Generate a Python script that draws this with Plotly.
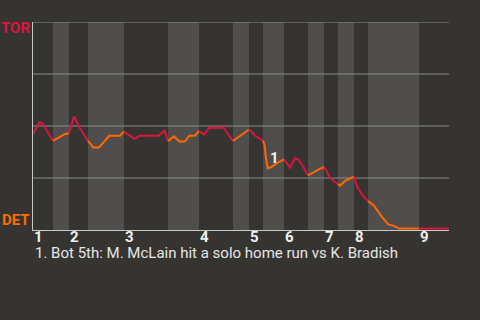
import plotly.graph_objects as go

# Game progress (arbitrary units along the game) and TOR win probability
progress = [0, 6.3, 9.3, 20, 32, 36, 41, 47, 55, 60.3, 66, 76.3, 87, 91,
            101.5, 106.5, 125.5, 131.5, 135, 141, 146.5, 151.5, 156.5, 162, 166,
            171, 176.3, 190.8, 195.5, 200, 207, 216, 222, 227, 230,
            231.5, 233, 234.7, 238.7, 243.7, 251, 254, 257, 262, 265.3, 270.3, 275,
            280.3, 286.3, 291, 293, 297, 302, 305, 307, 312, 318.7, 321,
            324.3, 328.7, 335, 341, 348.7, 355.3, 360.3, 366.3, 386, 416]
tor_win_prob = [0.460, 0.518, 0.513, 0.428, 0.462, 0.465, 0.546, 0.489, 0.428,
                0.397, 0.397, 0.453, 0.453, 0.473, 0.438, 0.453, 0.453, 0.478, 0.428,
                0.450, 0.425, 0.425, 0.453, 0.453, 0.476, 0.459, 0.492, 0.492, 0.457,
                0.428, 0.453, 0.483, 0.454, 0.438, 0.429, 0.409, 0.345, 0.296, 0.304,
                0.321, 0.340, 0.321, 0.300, 0.345, 0.340, 0.304, 0.262, 0.277, 0.293,
                0.303, 0.288, 0.249, 0.232, 0.221, 0.213, 0.236, 0.251, 0.256, 0.208,
                0.172, 0.139, 0.117, 0.064, 0.027, 0.021, 0.007, 0.007, 0.007]

# Half-inning boundaries (top, bottom, top, bottom, ...), last value = end of game
half_starts = [0, 20, 36, 55, 91, 135, 166, 200, 216, 230, 251, 275, 291, 305,
               321, 335, 386, 416]
inning_labels = ["1", "2", "3", "4", "5", "6", "7", "8", "9"]
grid_values = [0.25, 0.5, 0.75, 1.0]

event_labels = ["1"]
event_x = [234.7]
event_y = [0.296]
caption = "1. Bot 5th: M. McLain hit a solo home run vs K. Bradish"

BG = "#363431"
BAND = "#4f4e4c"
GRID = "#8c8c8c"
RED = "#dc1440"
ORANGE = "#ff6a00"
FONT = "Roboto"
FS = 15

fig = go.Figure()

shapes = []
for i in range(len(half_starts) - 1):
    if i % 2 == 1:
        shapes.append(dict(type="rect", xref="x", yref="paper",
                           x0=half_starts[i], x1=half_starts[i + 1], y0=0, y1=1,
                           fillcolor=BAND, line_width=0, layer="below"))
for g in grid_values:
    shapes.append(dict(type="line", xref="paper", yref="y", x0=0, x1=1, y0=g, y1=g,
                       line=dict(color=GRID, width=1), layer="below"))

for i in range(len(half_starts) - 1):
    a, b = half_starts[i], half_starts[i + 1]
    xs = [x for x in progress if a <= x <= b]
    ys = [y for x, y in zip(progress, tor_win_prob) if a <= x <= b]
    fig.add_trace(go.Scatter(x=xs, y=ys, mode="lines",
                             line=dict(color=RED if i % 2 == 0 else ORANGE, width=2),
                             hoverinfo="skip", showlegend=False))

annotations = []
for k, lab in enumerate(inning_labels):
    annotations.append(dict(x=half_starts[2 * k], y=-0.032, xref="x", yref="paper",
                            text=lab, showarrow=False, xanchor="left", yanchor="middle",
                            xshift=0, height=13, borderpad=0, valign="middle",
                            font=dict(family=FONT, size=FS, color="#f0f0f0", weight="bold")))
for lab, ex, ey in zip(event_labels, event_x, event_y):
    annotations.append(dict(x=ex, y=ey, xref="x", yref="y", text=lab, showarrow=False,
                            xanchor="left", yanchor="bottom", xshift=0, yshift=-1,
                            font=dict(family=FONT, size=FS, color="#f0f0f0", weight="bold")))
annotations.append(dict(x=0, y=0.971, xref="paper", yref="paper", text="TOR",
                        showarrow=False, xanchor="right", yanchor="middle", xshift=-1,
                        font=dict(family=FONT, size=FS, color=RED, weight="bold")))
annotations.append(dict(x=0, y=0.05, xref="paper", yref="paper", text="DET",
                        showarrow=False, xanchor="right", yanchor="middle", xshift=-1,
                        font=dict(family=FONT, size=FS, color=ORANGE, weight="bold")))
annotations.append(dict(x=0, y=-0.111, xref="x", yref="paper", text=caption,
                        showarrow=False, xanchor="left", yanchor="middle", xshift=1,
                        height=14, borderpad=0, valign="middle",
                        font=dict(family=FONT, size=FS, color="#e6e6e6")))

fig.update_layout(
    width=480, height=320,
    margin=dict(l=33, r=31, t=22, b=90, pad=0),
    paper_bgcolor=BG, plot_bgcolor=BG,
    shapes=shapes, annotations=annotations,
    xaxis=dict(range=[0, 416], showgrid=False, zeroline=False, showticklabels=False,
               ticks="", showline=True, linecolor="#c8c8c8", linewidth=1, fixedrange=True),
    yaxis=dict(range=[0, 1], showgrid=False, zeroline=False, showticklabels=False,
               ticks="", showline=True, linecolor="#c8c8c8", linewidth=1, fixedrange=True),
)

fig.write_html("out.html", config={"displayModeBar": False})
